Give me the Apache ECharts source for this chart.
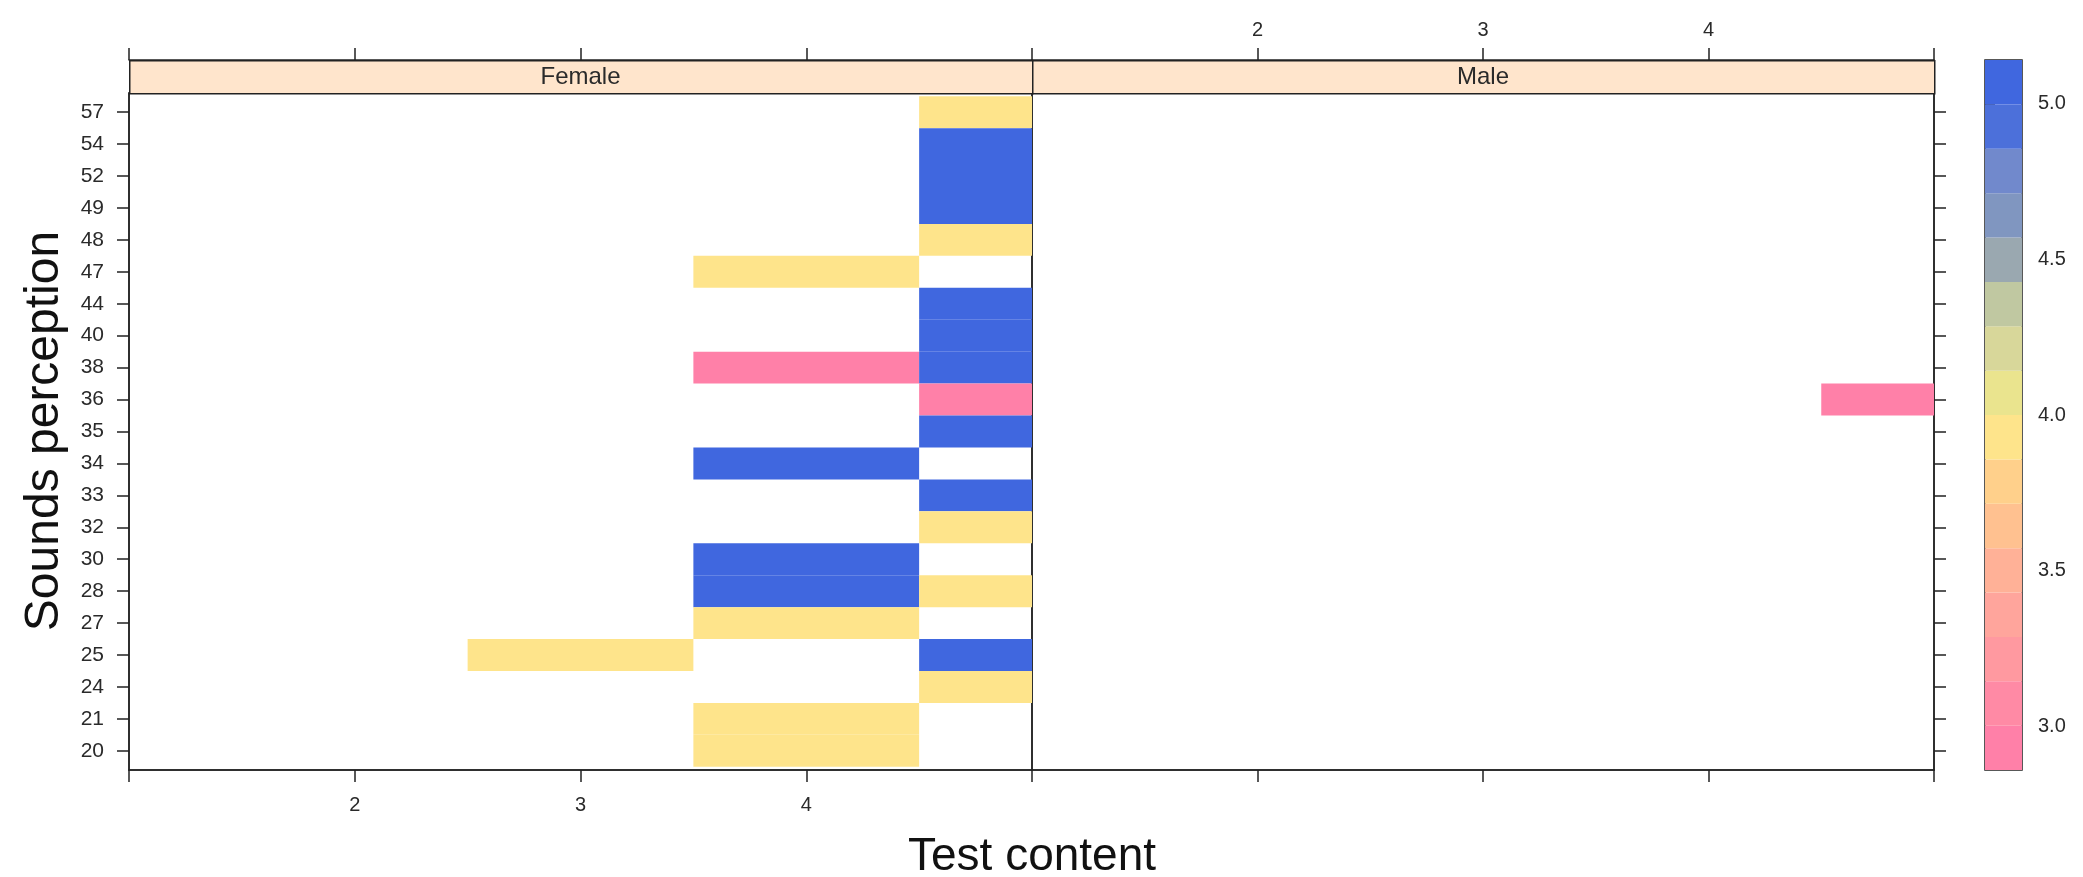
<!DOCTYPE html>
<html><head><meta charset="utf-8">
<script src="https://cdn.jsdelivr.net/npm/echarts@6/dist/echarts.min.js"></script>
<style>html,body{margin:0;padding:0;background:#fff}#c{width:2083px;height:877px}</style>
</head><body><div id="c"></div>
<script>
// ---------- data ----------
const panels = ['Female', 'Male'];
const soundLevels = ['20','21','24','25','27','28','30','32','33','34','35','36','38','40','44','47','48','49','52','54','57'];
const testTicks = [1, 2, 3, 4, 5];
const testTickLabels = [2, 3, 4];
// [test content, sounds perception, score]
const femaleCells = [
  [5,'57',4.0],[5,'54',5.0],[5,'52',5.0],[5,'49',5.0],[5,'48',4.0],
  [4,'47',4.0],
  [5,'44',5.0],[5,'40',5.0],
  [4,'38',3.0],[5,'38',5.0],
  [5,'36',3.0],[5,'35',5.0],
  [4,'34',5.0],[5,'33',5.0],[5,'32',4.0],
  [4,'30',5.0],[4,'28',5.0],[5,'28',4.0],
  [4,'27',4.0],[3,'25',4.0],[5,'25',5.0],
  [5,'24',4.0],[4,'21',4.0],[4,'20',4.0]
];
const maleCells = [[5,'36',3.0]];
const colorBreaks = [2.86,3.0025,3.145,3.2875,3.43,3.5725,3.715,3.8575,4.0,4.1425,4.285,4.4275,4.57,4.7125,4.855,4.9975,5.14];
const colorBands = ['#FF80A8','#FF8AA5','#FF99A0','#FFA59C','#FFB197','#FFC190','#FFD08B','#FEE48B',
                    '#EAE48E','#D8D79A','#C0C8A1','#9AA8B0','#8096C0','#7189CC','#4C70DA','#4067DF'];
const colorTicks = [3.0, 3.5, 4.0, 4.5, 5.0];

// ---------- helpers ----------
function colorFor(v) {
  for (let i = 0; i < colorBands.length; i++) if (v <= colorBreaks[i + 1]) return colorBands[i];
  return colorBands[colorBands.length - 1];
}
function toIdx(cells) { return cells.map(([x, s, v]) => [x, soundLevels.indexOf(s) + 1, v]); }
function cellRenderer(params, api) {
  const x = api.value(0), y = api.value(1), v = api.value(2);
  const p0 = api.coord([x - 0.5, y + 0.5]);
  const p1 = api.coord([x + 0.5, y - 0.5]);
  const cs = params.coordSys;
  const r = echarts.graphic.clipRectByRect(
    {x: p0[0], y: p0[1], width: p1[0] - p0[0], height: p1[1] - p0[1]},
    {x: cs.x, y: cs.y, width: cs.width, height: cs.height});
  return r && {type: 'rect', shape: r, style: {fill: colorFor(v)}};
}
function bandRenderer(params, api) {
  const lo = api.value(0), hi = api.value(1);
  const p0 = api.coord([0, hi]);
  const p1 = api.coord([1, lo]);
  return {type: 'rect', shape: {x: p0[0], y: p0[1], width: p1[0] - p0[0], height: p1[1] - p0[1]},
          style: {fill: colorBands[api.value(2)]}};
}

const INK = '#222';
const FONT = '"Liberation Sans", Arial, Helvetica, sans-serif';
const tickFont = {fontFamily: FONT, fontSize: 21, color: '#2a2a2a'};
const lineStyle = {color: INK, width: 1.5};

const F = {left: 129, top: 93, width: 903, height: 677};
const M = {left: 1032, top: 93, width: 902, height: 677};
const CB = {left: 1985, top: 60, width: 37, height: 710};
const STRIP_H = 33;

function xAxis(gridIndex, position, showLabels, offset) {
  return {
    type: 'value', gridIndex, position, offset: offset || 0, min: 1, max: 5,
    splitLine: {show: false},
    axisLine: {show: true, lineStyle},
    axisTick: {show: true, inside: false, length: 12, lineStyle, customValues: testTicks},
    axisLabel: {show: showLabels, ...tickFont, fontSize: 20, margin: position === 'top' ? 20 : 25,
                customValues: testTickLabels, formatter: v => String(v)}
  };
}
function yAxis(gridIndex, position, showLabels) {
  const idx = soundLevels.map((s, i) => i + 1);
  return {
    type: 'value', gridIndex, position, min: 0.4, max: soundLevels.length + 0.6,
    splitLine: {show: false},
    axisLine: {show: true, lineStyle},
    axisTick: {show: true, inside: false, length: 12, lineStyle, customValues: idx},
    axisLabel: {show: showLabels, ...tickFont, margin: 25, customValues: idx,
                formatter: v => soundLevels[Math.round(v) - 1] || ''}
  };
}

const chart = echarts.init(document.getElementById('c'), null, {renderer: 'canvas'});
chart.setOption({
  animation: false,
  backgroundColor: '#fff',
  grid: [
    {...F, show: true, borderColor: INK, borderWidth: 1.5, backgroundColor: 'transparent', containLabel: false},
    {...M, show: true, borderColor: INK, borderWidth: 1.5, backgroundColor: 'transparent', containLabel: false},
    {...CB, show: true, borderColor: INK, borderWidth: 1.5, backgroundColor: 'transparent', containLabel: false}
  ],
  xAxis: [
    xAxis(0, 'bottom', true),
    xAxis(0, 'top', false, STRIP_H),
    xAxis(1, 'bottom', false),
    xAxis(1, 'top', true, STRIP_H),
    {type: 'value', gridIndex: 2, min: 0, max: 1, show: false}
  ],
  yAxis: [
    yAxis(0, 'left', true),
    yAxis(1, 'right', false),
    {type: 'value', gridIndex: 2, position: 'right', min: colorBreaks[0], max: colorBreaks[colorBreaks.length - 1],
     splitLine: {show: false}, axisLine: {show: false},
     axisTick: {show: true, inside: false, length: 10, lineStyle, customValues: colorTicks},
     axisLabel: {show: true, fontFamily: FONT, fontSize: 20, color: '#2a2a2a', margin: 16,
                 customValues: colorTicks, formatter: v => v.toFixed(1)}}
  ],
  series: [
    {type: 'custom', name: panels[0], xAxisIndex: 0, yAxisIndex: 0, renderItem: cellRenderer, data: toIdx(femaleCells), z: 1},
    {type: 'custom', name: panels[1], xAxisIndex: 2, yAxisIndex: 1, renderItem: cellRenderer, data: toIdx(maleCells), z: 1},
    {type: 'custom', name: 'colorkey', xAxisIndex: 4, yAxisIndex: 2, renderItem: bandRenderer,
     data: colorBands.map((c, i) => [colorBreaks[i], colorBreaks[i + 1], i]), z: 1}
  ],
  graphic: [
    {type: 'rect', left: F.left, top: F.top - STRIP_H, shape: {width: F.width, height: STRIP_H},
     style: {fill: '#FFE5CC', stroke: INK, lineWidth: 1.5}, z: 10},
    {type: 'rect', left: M.left, top: M.top - STRIP_H, shape: {width: M.width, height: STRIP_H},
     style: {fill: '#FFE5CC', stroke: INK, lineWidth: 1.5}, z: 10},
    {type: 'text', x: F.left + F.width / 2, y: F.top - STRIP_H / 2 + 1, z: 11,
     style: {text: panels[0], align: 'center', verticalAlign: 'middle', fontSize: 24, fontFamily: FONT, fill: '#2a2a2a'}},
    {type: 'text', x: M.left + M.width / 2, y: M.top - STRIP_H / 2 + 1, z: 11,
     style: {text: panels[1], align: 'center', verticalAlign: 'middle', fontSize: 24, fontFamily: FONT, fill: '#2a2a2a'}},
    {type: 'text', x: 1032, y: 857, z: 11,
     style: {text: 'Test content', align: 'center', verticalAlign: 'middle', fontSize: 46, fontFamily: FONT, fill: '#111'}},
    {type: 'text', x: 45, y: 431, rotation: Math.PI / 2, z: 11,
     style: {text: 'Sounds perception', align: 'center', verticalAlign: 'middle', fontSize: 48, fontFamily: FONT, fill: '#111'}}
  ]
});
</script></body></html>
